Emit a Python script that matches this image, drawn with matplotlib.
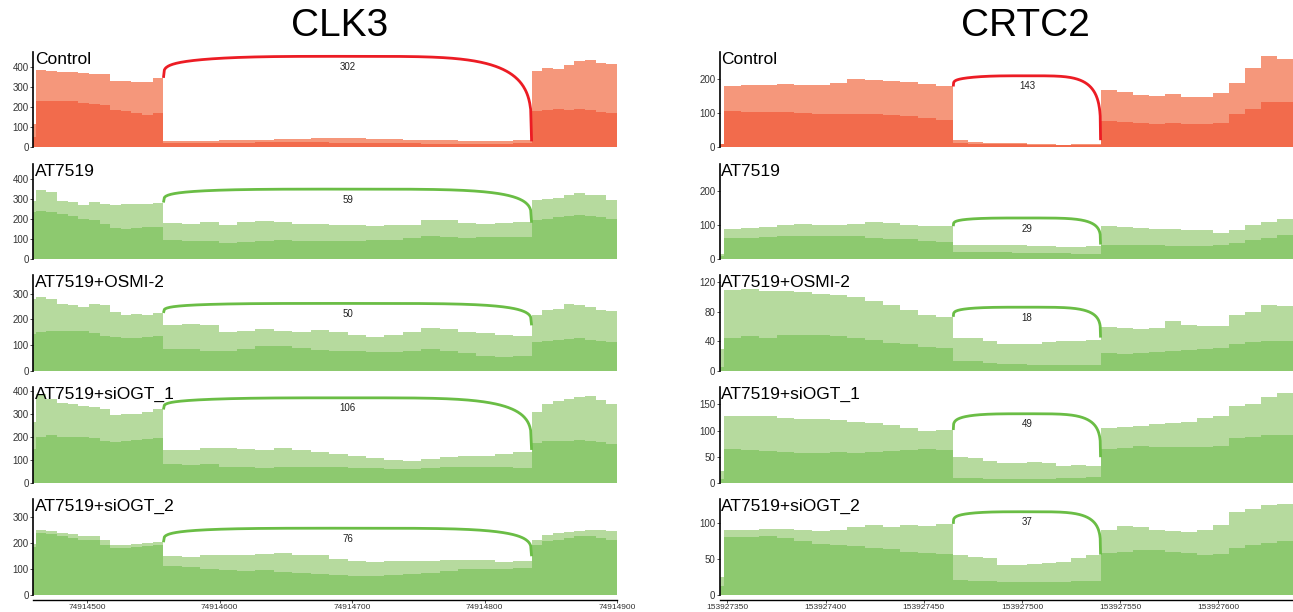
import numpy as np
import matplotlib
matplotlib.use('Agg')
import matplotlib.pyplot as plt

plt.rcParams['font.family'] = ['Liberation Sans', 'DejaVu Sans']

conditions = ['Control', 'AT7519', 'AT7519+OSMI-2', 'AT7519+siOGT_1', 'AT7519+siOGT_2']

# ---- CLK3: genomic layout ----
clk3_start, clk3_js, clk3_je, clk3_end = 74914459, 74914557.5, 74914835.5, 74914900
clk3_xticks = [74914500, 74914600, 74914700, 74914800, 74914900]
clk3_counts = [302, 59, 50, 106, 76]
clk3_arc_top = [452, 350, 262, 372, 256]
clk3_ylim = [475, 478, 371, 419, 369]
clk3_yticks = [[0, 100, 200, 300, 400], [0, 100, 200, 300, 400], [0, 100, 200, 300],
               [0, 100, 200, 300, 400], [0, 100, 200, 300]]

# coverage: first bin, 12 left-exon bins, 20 intron bins, 8 right-exon bins
clk3_control_light = [115, 383, 378, 376, 372, 367, 366, 362, 331, 330, 327, 326, 345,
                      30, 32, 33, 35, 36, 38, 40, 42, 45, 47, 46, 42, 40, 38, 36, 35, 33, 30, 30, 38,
                      378, 395, 390, 411, 428, 436, 420, 416]
clk3_control_dark = [53, 230, 229, 230, 228, 222, 215, 208, 185, 182, 172, 163, 170,
                     22, 22, 22, 23, 24, 25, 26, 25, 25, 24, 24, 22, 20, 20, 19, 18, 17, 16, 16, 22,
                     179, 185, 190, 187, 190, 187, 174, 171]
clk3_at_light = [290, 345, 337, 290, 287, 270, 287, 278, 273, 277, 277, 278, 283,
                 182, 177, 187, 173, 187, 193, 187, 175, 178, 173, 170, 165, 170, 170, 198, 195, 183, 178, 182, 187,
                 295, 300, 308, 320, 332, 323, 320, 295]
clk3_at_dark = [235, 242, 237, 228, 217, 203, 195, 178, 157, 153, 158, 162, 162,
                95, 92, 90, 83, 85, 90, 95, 92, 93, 92, 93, 95, 97, 107, 117, 112, 108, 110, 110, 110,
                195, 203, 212, 215, 220, 217, 212, 203]
clk3_osmi_light = [280, 287, 280, 261, 257, 248, 261, 255, 229, 219, 222, 216, 225,
                   177, 183, 177, 153, 157, 164, 157, 151, 160, 151, 140, 131, 138, 151, 166, 164, 151, 147, 138, 134,
                   216, 235, 242, 261, 255, 248, 238, 232]
clk3_osmi_dark = [145, 151, 157, 157, 155, 155, 148, 134, 131, 129, 127, 131, 134,
                  86, 86, 79, 79, 86, 96, 95, 90, 83, 79, 77, 73, 75, 79, 86, 79, 69, 60, 56, 58,
                  112, 118, 121, 125, 127, 122, 118, 114]
clk3_si1_light = [267, 390, 365, 351, 344, 337, 332, 322, 296, 303, 300, 310, 321,
                  144, 142, 152, 152, 147, 144, 152, 142, 133, 127, 116, 108, 101, 97, 104, 113, 119, 119, 127, 133,
                  310, 346, 358, 368, 375, 378, 361, 343]
clk3_si1_dark = [150, 202, 209, 202, 199, 199, 195, 181, 178, 184, 186, 191, 195,
                 84, 79, 84, 69, 68, 65, 68, 68, 69, 68, 66, 64, 61, 61, 64, 69, 68, 69, 69, 65,
                 173, 181, 181, 185, 188, 184, 178, 170]
clk3_si2_light = [195, 248, 245, 238, 232, 225, 225, 209, 193, 191, 196, 200, 202,
                  148, 145, 154, 152, 154, 158, 161, 154, 152, 138, 129, 126, 129, 129, 131, 135, 135, 133, 125, 129,
                  212, 229, 238, 242, 245, 248, 248, 245]
clk3_si2_dark = [185, 238, 232, 225, 219, 212, 209, 193, 180, 180, 184, 189, 193,
                 109, 106, 97, 93, 90, 93, 88, 84, 80, 77, 73, 73, 77, 80, 84, 90, 97, 97, 99, 103,
                 193, 206, 212, 219, 225, 225, 219, 209]

# ---- CRTC2: genomic layout ----
crtc2_start, crtc2_js, crtc2_je, crtc2_end = 153927346, 153927465, 153927540, 153927638
crtc2_xticks = [153927350, 153927400, 153927450, 153927500, 153927550, 153927600]
crtc2_counts = [143, 29, 18, 49, 37]
crtc2_arc_top = [208, 121, 86, 132, 116]
crtc2_ylim = [278, 281, 129, 183, 134]
crtc2_yticks = [[0, 100, 200], [0, 100, 200], [0, 40, 80, 120], [0, 50, 100, 150], [0, 50, 100]]

# coverage: first bin, 13 left-exon bins, 10 intron bins, 12 right-exon bins
crtc2_control_light = [10, 177, 180, 182, 184, 182, 180, 187, 199, 197, 192, 190, 184, 177,
                       21, 17, 14, 14, 12, 11, 9, 8, 10, 10,
                       167, 162, 152, 150, 154, 147, 145, 157, 187, 232, 266, 256]
crtc2_control_dark = [10, 105, 103, 103, 103, 100, 98, 96, 97, 96, 93, 90, 85, 80,
                      12, 11, 10, 10, 9, 8, 7, 7, 7, 7,
                      76, 75, 71, 68, 70, 68, 68, 70, 98, 113, 133, 131]
crtc2_at_light = [15, 90, 92, 95, 99, 103, 99, 99, 103, 108, 105, 99, 97, 97,
                  43, 41, 41, 41, 41, 39, 38, 36, 36, 39,
                  97, 95, 92, 90, 90, 87, 85, 78, 87, 99, 110, 118]
crtc2_at_dark = [10, 61, 63, 66, 68, 69, 69, 68, 68, 61, 58, 58, 54, 51,
                 22, 22, 20, 20, 19, 19, 17, 17, 15, 15,
                 41, 41, 43, 41, 39, 38, 38, 41, 49, 56, 63, 71]
crtc2_osmi_light = [30, 109, 110, 108, 108, 107, 104, 103, 100, 94, 89, 82, 76, 73,
                    45, 44, 40, 37, 36, 37, 39, 40, 41, 42,
                    59, 58, 57, 58, 67, 62, 60, 61, 75, 80, 89, 87]
crtc2_osmi_dark = [5, 44, 47, 45, 48, 48, 48, 47, 45, 42, 38, 36, 33, 31,
                   14, 13, 11, 10, 10, 8, 8, 8, 8, 8,
                   24, 23, 24, 26, 27, 28, 29, 31, 36, 39, 40, 40]
crtc2_si1_light = [22, 128, 128, 127, 124, 122, 122, 120, 117, 114, 110, 105, 100, 101,
                   49, 47, 42, 38, 38, 40, 37, 33, 34, 32,
                   105, 106, 109, 112, 114, 117, 124, 127, 146, 151, 164, 171]
crtc2_si1_dark = [8, 64, 62, 60, 59, 57, 57, 59, 57, 59, 60, 62, 64, 62,
                  9, 9, 8, 8, 8, 7, 8, 9, 9, 11,
                  64, 67, 70, 69, 69, 68, 69, 71, 86, 88, 92, 92]
crtc2_si2_light = [25, 90, 91, 92, 92, 90, 89, 91, 94, 97, 95, 97, 96, 99,
                   56, 53, 51, 41, 41, 43, 44, 46, 51, 55,
                   90, 96, 94, 91, 89, 88, 91, 97, 115, 120, 125, 127]
crtc2_si2_dark = [12, 80, 81, 82, 79, 75, 71, 70, 68, 65, 64, 60, 58, 57,
                  21, 19, 19, 17, 17, 17, 17, 18, 19, 19,
                  58, 60, 62, 63, 60, 58, 56, 57, 65, 70, 72, 75]

red_light, red_dark, red_arc = '#F5977B', '#F26B4C', '#EC1C24'
green_light, green_dark, green_arc = '#B6DA9E', '#8DC96F', '#6ABD45'


def make_edges(start, js, je, end, n_left, n_intron, n_right):
    left = np.linspace(start + 2, js, n_left + 1)
    intron = np.linspace(js, je, n_intron + 1)[1:]
    right = np.linspace(je, end, n_right + 1)[1:]
    return np.concatenate([[start], left, intron, right])


clk3_edges = make_edges(clk3_start, clk3_js, clk3_je, clk3_end, 12, 20, 8)
crtc2_edges = make_edges(crtc2_start, crtc2_js, crtc2_je, crtc2_end, 13, 10, 12)

genes = [
    dict(name='CLK3', left=33, right=617, title_x=340, edges=clk3_edges,
         js=clk3_js, je=clk3_je, nleft=13, xlim=(clk3_start, clk3_end), xticks=clk3_xticks,
         counts=clk3_counts, arc_top=clk3_arc_top, ylim=clk3_ylim, yticks=clk3_yticks,
         light=[clk3_control_light, clk3_at_light, clk3_osmi_light, clk3_si1_light, clk3_si2_light],
         dark=[clk3_control_dark, clk3_at_dark, clk3_osmi_dark, clk3_si1_dark, clk3_si2_dark]),
    dict(name='CRTC2', left=719.6, right=1293, title_x=1025, edges=crtc2_edges,
         js=crtc2_js, je=crtc2_je, nleft=14, xlim=(crtc2_start, crtc2_end), xticks=crtc2_xticks,
         counts=crtc2_counts, arc_top=crtc2_arc_top, ylim=crtc2_ylim, yticks=crtc2_yticks,
         light=[crtc2_control_light, crtc2_at_light, crtc2_osmi_light, crtc2_si1_light, crtc2_si2_light],
         dark=[crtc2_control_dark, crtc2_at_dark, crtc2_osmi_dark, crtc2_si1_dark, crtc2_si2_dark]),
]

W, H = 1293, 612
row_tops = [51.7, 163.5, 275.3, 387.1, 498.9]
row_h = 95.7

fig = plt.figure(figsize=(W / 100, H / 100), dpi=100)

for g in genes:
    fig.text(g['title_x'] / W, 1 - 26 / H, g['name'], ha='center', va='center', fontsize=28)
    for i, cond in enumerate(conditions):
        top = row_tops[i]
        ax = fig.add_axes([g['left'] / W, 1 - (top + row_h) / H,
                           (g['right'] - g['left']) / W, row_h / H])
        if i == 0:
            cl, cd, ca = red_light, red_dark, red_arc
        else:
            cl, cd, ca = green_light, green_dark, green_arc
        light = g['light'][i]
        dark = g['dark'][i]
        ax.stairs(light, g['edges'], fill=True, color=cl, linewidth=0)
        ax.stairs(dark, g['edges'], fill=True, color=cd, linewidth=0)

        # junction arc
        y0 = light[g['nleft'] - 1]
        y1 = light[g['nleft']]
        h = g['arc_top'][i]
        u = np.linspace(0, 1, 400)
        base = y0 + (y1 - y0) * u
        shape = (1 - np.abs(2 * u - 1) ** 4) ** 0.25
        ax.plot(g['js'] + (g['je'] - g['js']) * u, base + (h - base) * shape,
                color=ca, lw=2, solid_capstyle='butt')
        ax.annotate(str(g['counts'][i]), ((g['js'] + g['je']) / 2, h),
                    xytext=(0, -4), textcoords='offset points',
                    ha='center', va='top', fontsize=7, color='#222222')

        ax.text(0.003, 1.0, cond, transform=ax.transAxes, ha='left', va='top', fontsize=12.5)

        ax.set_xlim(*g['xlim'])
        ax.set_ylim(0, g['ylim'][i])
        ax.set_yticks(g['yticks'][i])
        ax.tick_params(axis='y', labelsize=7, length=2, width=0.6, pad=1, colors='#333333')
        ax.spines['left'].set_linewidth(1.2)
        ax.spines['left'].set_color('black')
        ax.spines['top'].set_visible(False)
        ax.spines['right'].set_visible(False)
        if i == len(conditions) - 1:
            ax.spines['bottom'].set_position(('outward', 4))
            ax.spines['bottom'].set_linewidth(1.0)
            ax.set_xticks(g['xticks'])
            ax.set_xticklabels([str(t) for t in g['xticks']])
            ax.tick_params(axis='x', labelsize=6, length=2, width=0.6, pad=0.5, colors='#333333')
        else:
            ax.spines['bottom'].set_visible(False)
            ax.set_xticks([])

fig.savefig('out.png', dpi=100)
